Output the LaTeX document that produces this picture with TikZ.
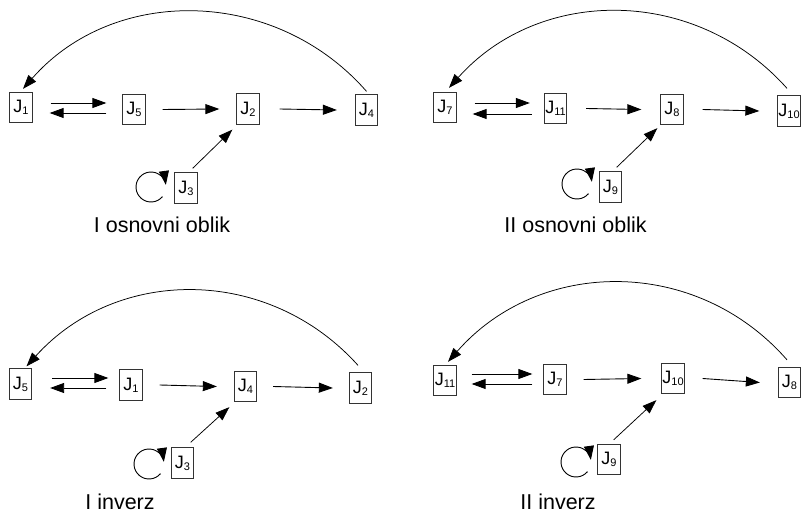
\documentclass[tikz,border=0pt]{standalone}
\usepackage{fontspec}
\setmainfont{Liberation Sans}
\usetikzlibrary{arrows.meta}
\newcommand{\Jl}[1]{J\raisebox{-2pt}{\fontsize{11}{11}\selectfont #1}}
\begin{document}
\begin{tikzpicture}[x=1pt,y=1pt,
  jbox/.style={draw=black!80, line width=0.8pt, minimum width=22.5pt, minimum height=30.5pt, inner sep=0pt, font=\fontsize{18}{18}\selectfont},
  arr/.style={draw=black, line width=0.9pt, -{Triangle[length=14pt,width=10pt]}},
  thin arr/.style={draw=black, line width=0.75pt, -{Triangle[length=14pt,width=10pt]}},
  caption/.style={anchor=base, font=\fontsize{21.5}{21.5}\selectfont, inner sep=0pt}]
\useasboundingbox (0,0) rectangle (801,512);

% ---------- top left: I osnovni oblik ----------
\node[jbox] (a1) at (21,404.5) {\Jl{1}};
\node[jbox] (a5) at (134,402.5) {\Jl{5}};
\node[jbox] (a2) at (248,403) {\Jl{2}};
\node[jbox] (a4) at (366.5,402) {\Jl{4}};
\node[jbox] (a3) at (186,324) {\Jl{3}};
\coordinate (la) at (151,325);
\node[caption] (ca) at (162,279) {I osnovni oblik};

\draw[arr] ([xshift=18pt,yshift=4.5pt]a1.east) -- ([xshift=-16pt,yshift=6.5pt]a5.west);
\draw[arr] ([xshift=-16pt,yshift=-3.5pt]a5.west) -- ([xshift=17pt,yshift=-5.5pt]a1.east);
\draw[arr] ([xshift=17pt]a5.east) -- ([xshift=-17pt]a2.west);
\draw[arr] ([xshift=20pt]a2.east) -- ([xshift=-18pt]a4.west);
\draw[thin arr] ([shift={(-5pt,4pt)}]a3.north east) -- ([shift={(-4pt,-5pt)}]a2.south west);
\draw[thin arr] ([yshift=3pt]a4.north) .. controls +(-91,104) and +(91,104) .. ([xshift=2pt,yshift=3pt]a1.north);
\draw[arr] ([shift={(-40:15)}]la) arc[start angle=-40, end angle=-352, radius=15];

% ---------- top right: II osnovni oblik ----------
\node[jbox] (b7) at (445,404.5) {\Jl{7}};
\node[jbox] (b11) at (555.5,403.5) {\Jl{11}};
\node[jbox] (b8) at (672,402.5) {\Jl{8}};
\node[jbox] (b10) at (789,401) {\Jl{10}};
\node[jbox] (b9) at (610.5,325) {\Jl{9}};
\coordinate (lb) at (577,328);
\node[caption] (cb) at (575.5,279) {II osnovni oblik};

\draw[arr] ([xshift=18pt,yshift=4.5pt]b7.east) -- ([xshift=-14pt,yshift=5.5pt]b11.west);
\draw[arr] ([xshift=-12pt,yshift=-5.5pt]b11.west) -- ([xshift=16pt,yshift=-6.5pt]b7.east);
\draw[arr] ([xshift=19pt]b11.east) -- ([xshift=-19pt]b8.west);
\draw[arr] ([xshift=19pt]b8.east) -- ([xshift=-18pt]b10.west);
\draw[thin arr] ([shift={(-5.5pt,4pt)}]b9.north east) -- ([shift={(-3pt,-3pt)}]b8.south west);
\draw[thin arr] ([xshift=-2pt,yshift=7pt]b10.north) .. controls +(-91,102) and +(91,102) .. ([xshift=4pt,yshift=4pt]b7.north);
\draw[arr] ([shift={(-40:15)}]lb) arc[start angle=-40, end angle=-352, radius=15];

% ---------- bottom left: I inverz ----------
\node[jbox] (c5) at (20.5,128) {\Jl{5}};
\node[jbox] (c1) at (131,127) {\Jl{1}};
\node[jbox] (c4) at (245.5,125.5) {\Jl{4}};
\node[jbox] (c2) at (360.5,124) {\Jl{2}};
\node[jbox] (c3) at (182.5,49) {\Jl{3}};
\coordinate (lc) at (149,48);
\node[caption] (cc) at (120,3) {I inverz};

\draw[arr] ([xshift=20pt,yshift=6pt]c5.east) -- ([xshift=-11pt,yshift=7pt]c1.west);
\draw[arr] ([xshift=-13pt,yshift=-3pt]c1.west) -- ([xshift=18pt,yshift=-4pt]c5.east);
\draw[arr] ([xshift=17pt]c1.east) -- ([xshift=-17pt]c4.west);
\draw[arr] ([xshift=16pt]c4.east) -- ([xshift=-16pt]c2.west);
\draw[thin arr] ([shift={(-3.5pt,5pt)}]c3.north east) -- ([shift={(-4.5pt,-5pt)}]c4.south west);
\draw[thin arr] ([xshift=-2.5pt,yshift=7pt]c2.north) .. controls +(-90,100) and +(90,100) .. ([xshift=6pt,yshift=2pt]c5.north);
\draw[arr] ([shift={(-40:15)}]lc) arc[start angle=-40, end angle=-352, radius=15];

% ---------- bottom right: II inverz ----------
\node[jbox] (d11) at (445,131.5) {\Jl{11}};
\node[jbox] (d7) at (555,132.5) {\Jl{7}};
\node[jbox] (d10) at (673,133.5) {\Jl{10}};
\node[jbox] (d8) at (789.5,129.5) {\Jl{8}};
\node[jbox] (d9) at (609,52.5) {\Jl{9}};
\coordinate (ld) at (576,50);
\node[caption] (cd) at (558,3) {II inverz};

\draw[arr] ([xshift=15pt,yshift=6.5pt]d11.east) -- ([xshift=-11pt,yshift=5.5pt]d7.west);
\draw[arr] ([xshift=-11pt,yshift=-4.5pt]d7.west) -- ([xshift=15pt,yshift=-3.5pt]d11.east);
\draw[arr] ([xshift=17pt]d7.east) -- ([xshift=-20pt]d10.west);
\draw[arr] ([xshift=18pt]d10.east) -- ([xshift=-18pt]d8.west);
\draw[thin arr] ([shift={(-7pt,4pt)}]d9.north east) -- ([shift={(-5pt,-6pt)}]d10.south west);
\draw[thin arr] ([xshift=-2.5pt,yshift=7pt]d8.north) .. controls +(-91,104) and +(91,104) .. ([xshift=3pt,yshift=3pt]d11.north);
\draw[arr] ([shift={(-40:15)}]ld) arc[start angle=-40, end angle=-352, radius=15];
\end{tikzpicture}
\end{document}
